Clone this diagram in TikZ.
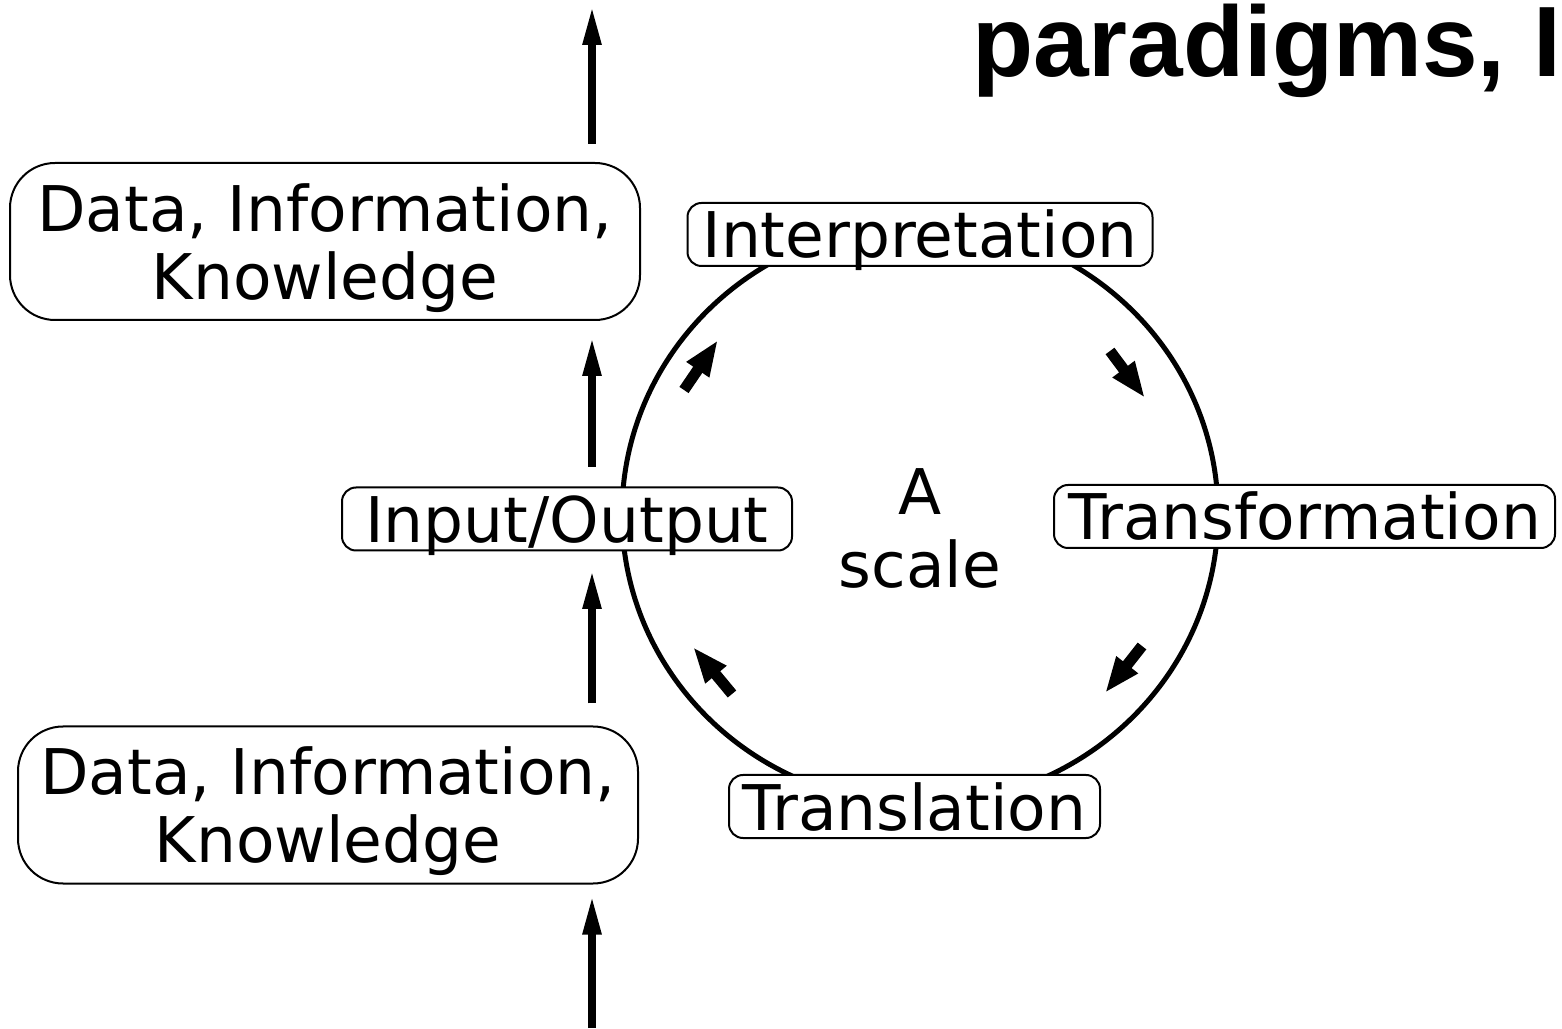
\documentclass[tikz,border=0pt]{standalone}
\usepackage{fontspec}
\setmainfont{DejaVu Sans}
\newfontfamily\titlefont{Liberation Sans}
\usetikzlibrary{arrows.meta}
\begin{document}
\begin{tikzpicture}[x=1pt,y=1pt,
  lbl/.style={font=\fontsize{63}{68}\selectfont},
  tag/.style={draw, line width=2pt, fill=white, rounded corners=14pt,
    inner xsep=0pt, inner ysep=8pt, text height=47pt, text depth=0pt, lbl},
  store/.style={draw, line width=2pt, fill=white, rounded corners=45pt,
    inner sep=0pt, minimum height=157pt, text depth=0pt, lbl},
  flow/.style={line width=8pt, -{Triangle[length=40pt,width=17pt]}},
  turn/.style={line width=11pt, -{Triangle[length=36pt,width=25pt]}},
]
\useasboundingbox (0,0) rectangle (1562,1028);
\clip (0,0) rectangle (1562,1028);

% heading, running off the page
\node[anchor=base west, inner sep=0pt,
  font=\titlefont\fontsize{100}{105}\selectfont\bfseries] (title) at (972,951) {paradigms, I};

% the cycle
\draw[line width=5pt] (920,514) ellipse [x radius=298pt, y radius=290pt];

\node[tag, minimum width=465pt] (interp) at (920,793.5) {Interpretation};
\node[tag, minimum width=501pt] (transf) at (1304.5,511.5) {Transformation};
\node[tag, minimum width=371pt] (transl) at (914.5,221.5) {Translation};
\node[tag, minimum width=450pt] (io) at (567,509) {Input/Output};

\node[lbl, inner sep=0pt, anchor=base, font=\fontsize{63}{73}\selectfont] (scaleLbl) at (920,513)
  {\parbox[t]{200pt}{\centering A\\scale}};

% direction of travel round the cycle
\draw[turn] (684,638) -- (718,688);
\draw[turn] (1110,677) -- (1145,630);
\draw[turn] (1142,382) -- (1105,335);
\draw[turn] (732,334) -- (693,381);

% stores of data
\node[store, minimum width=630pt] (dataTop) at (325,786.5)
  {\parbox[b]{620pt}{\centering Data, Information,\\Knowledge}};
\node[store, minimum width=620pt] (dataBot) at (328,223)
  {\parbox[b]{610pt}{\centering Data, Information,\\Knowledge}};

% upward flow
\coordinate (spine) at (592,0);
\coordinate (topEnd) at (592,1023);
\draw[flow, shorten <=18pt] (dataTop.north -| spine) -- (topEnd);
\draw[flow, shorten <=19.5pt, shorten >=15pt] (io.north -| spine) -- (dataTop.south -| spine);
\draw[flow, shorten <=22pt, shorten >=17.5pt] (dataBot.north -| spine) -- (io.south -| spine);
\draw[flow, shorten >=10pt] (spine) -- (dataBot.south -| spine);
\end{tikzpicture}
\end{document}
